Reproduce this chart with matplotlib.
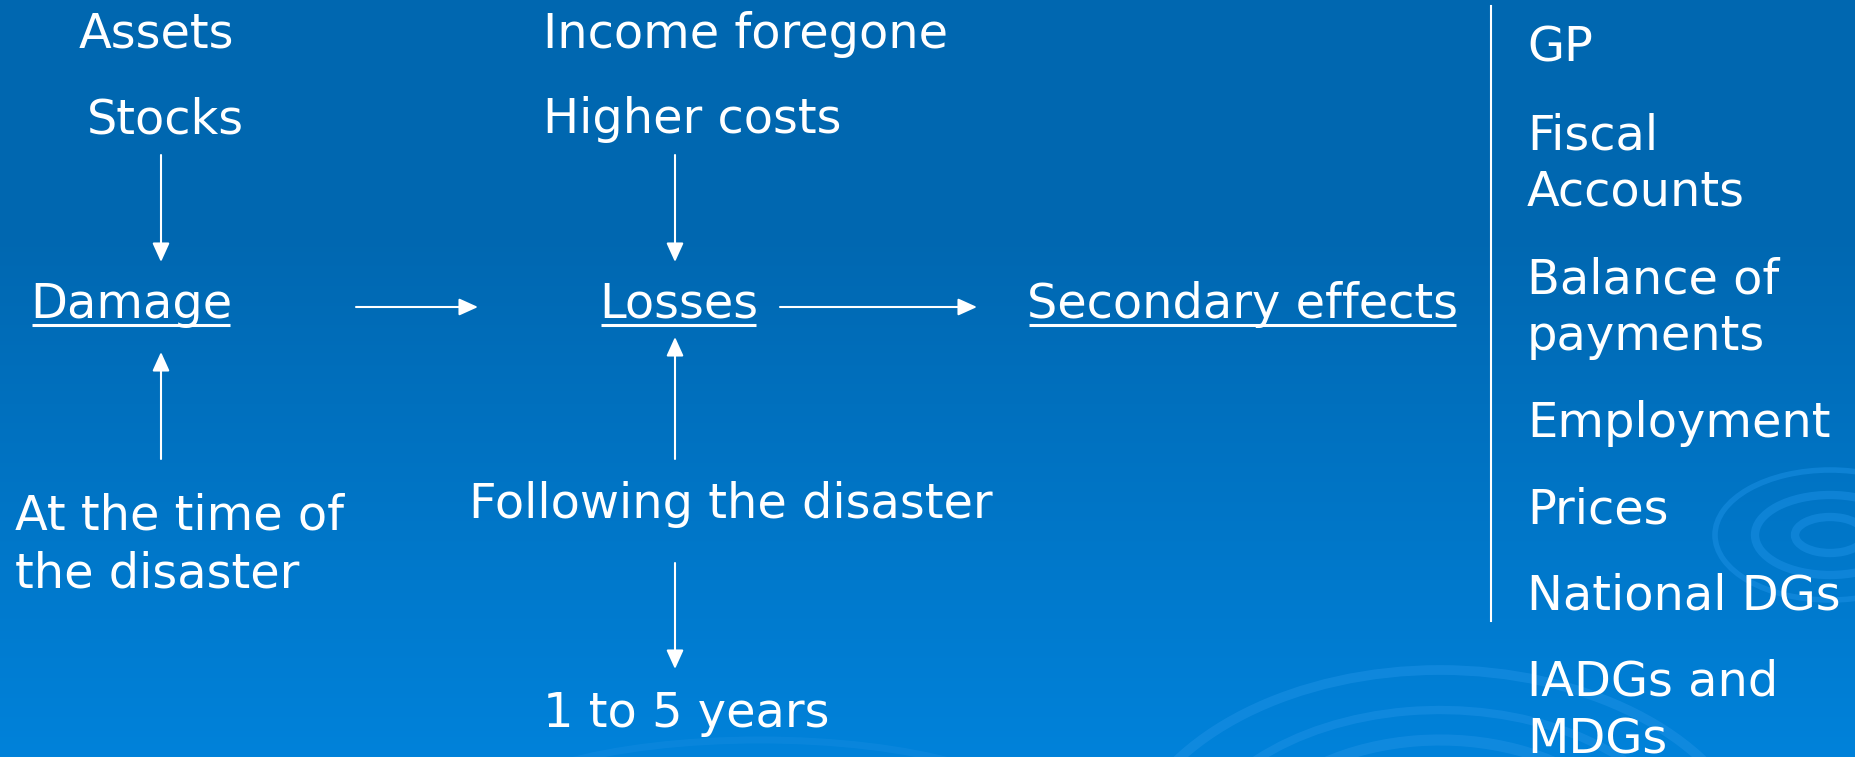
"""
Damage / losses / secondary effects flow diagram, drawn on a slide-like
blue gradient background. Coordinates are in pixels of the 1856x757 canvas.
"""

import numpy as np
import matplotlib
matplotlib.use("Agg")
import matplotlib.pyplot as plt
from matplotlib.patches import Arc

W, H = 1856, 757
FONT_SIZE = 34.5
TXT = "white"

# --- diagram content -------------------------------------------------------
left_labels = ["Assets", "Stocks"]
mid_top_labels = ["Income foregone", "Higher costs"]
main_nodes = ["Damage", "Losses", "Secondary effects"]
timing_labels = ["At the time of\nthe disaster", "Following the disaster", "1 to 5 years"]
effect_items = ["GP", "Fiscal\nAccounts", "Balance of\npayments", "Employment",
                "Prices", "National DGs", "IADGs and\nMDGs"]

# --- layout (pixels) -------------------------------------------------------
left_pos = [(79, 48), (87, 133)]
mid_top_pos = [(543, 48), (543, 133)]
node_pos = [(30, 318), (599, 318), (1027, 318)]
timing_pos = [(15, 530), (469, 518), (543, 727)]
effect_x = 1527
effect_baselines = [62, 149, 293, 437, 523, 609, 696]
LINE_GAP = 57

# arrows: (tail, tip)
arrows = [
    ((161, 155), (161, 262)),
    ((161, 459), (161, 352)),
    ((356, 307), (478, 307)),
    ((675, 155), (675, 262)),
    ((675, 459), (675, 337)),
    ((780, 307), (977, 307)),
    ((675, 563), (675, 669)),
]

fig = plt.figure(figsize=(W / 100, H / 100), dpi=100)
ax = fig.add_axes([0, 0, 1, 1])
ax.set_xlim(0, W)
ax.set_ylim(H, 0)
ax.axis("off")

# background gradient: flat dark blue on top, lighter towards the bottom
top = np.array([0x00, 0x67, 0xB0]) / 255
bot = np.array([0x00, 0x82, 0xDA]) / 255
yy = np.linspace(0, 1, H)
t = np.clip((yy - 0.3) / 0.7, 0, 1)[:, None]
grad = top * (1 - t) + bot * t
img = np.repeat(grad[:, None, :], 2, axis=1)
ax.imshow(img, extent=[0, W, H, 0], aspect="auto", zorder=0)

# faint swirl decoration
swirl = "#1a8fe3"
for w_, h_, lw, th1, th2 in [(640, 420, 7, 190, 350), (520, 340, 6, 185, 345),
                             (420, 280, 8, 200, 330), (300, 200, 6, 195, 340),
                             (190, 130, 5, 180, 360)]:
    ax.add_patch(Arc((1440, 880), w_, h_, theta1=th1, theta2=th2,
                     color=swirl, lw=lw, alpha=0.6, zorder=1))
for w_, h_, lw in [(70, 36, 6), (150, 80, 6), (230, 130, 4)]:
    ax.add_patch(Arc((1830, 535), w_, h_, color=swirl, lw=lw, alpha=0.55, zorder=1))
for w_, h_, lw in [(560, 160, 5), (440, 110, 4)]:
    ax.add_patch(Arc((760, 820), w_, h_, theta1=180, theta2=360,
                     color=swirl, lw=lw, alpha=0.35, zorder=1))

txt_kw = dict(color=TXT, fontsize=FONT_SIZE, family="DejaVu Sans",
              ha="left", va="baseline", zorder=3)

for label, (x, y) in zip(left_labels, left_pos):
    ax.text(x, y, label, **txt_kw)
for label, (x, y) in zip(mid_top_labels, mid_top_pos):
    ax.text(x, y, label, **txt_kw)

# underlined main nodes
fig.canvas.draw()
renderer = fig.canvas.get_renderer()
inv = ax.transData.inverted()
for label, (x, y) in zip(main_nodes, node_pos):
    t_ = ax.text(x, y, label, **txt_kw)
    bb = t_.get_window_extent(renderer)
    (x0, _), (x1, _) = inv.transform([(bb.x0, bb.y0), (bb.x1, bb.y1)])
    ax.plot([x0 + 2, x1 - 2], [y + 7, y + 7], color=TXT, lw=2.2,
            solid_capstyle="butt", zorder=3)

for label, (x, y) in zip(timing_labels, timing_pos):
    for i, line in enumerate(label.split("\n")):
        ax.text(x, y + i * LINE_GAP, line, **txt_kw)

for label, y in zip(effect_items, effect_baselines):
    for i, line in enumerate(label.split("\n")):
        ax.text(effect_x, y + i * LINE_GAP, line, **txt_kw)

# separator line
ax.plot([1491, 1491], [6, 621], color=TXT, lw=1.5, zorder=3)

for tail, tip in arrows:
    ax.annotate("", xy=tip, xytext=tail,
                arrowprops=dict(arrowstyle="-|>,head_length=1.15,head_width=0.52",
                                color=TXT, lw=1.5, shrinkA=0, shrinkB=0),
                zorder=3)

fig.savefig("out.png", dpi=100)
